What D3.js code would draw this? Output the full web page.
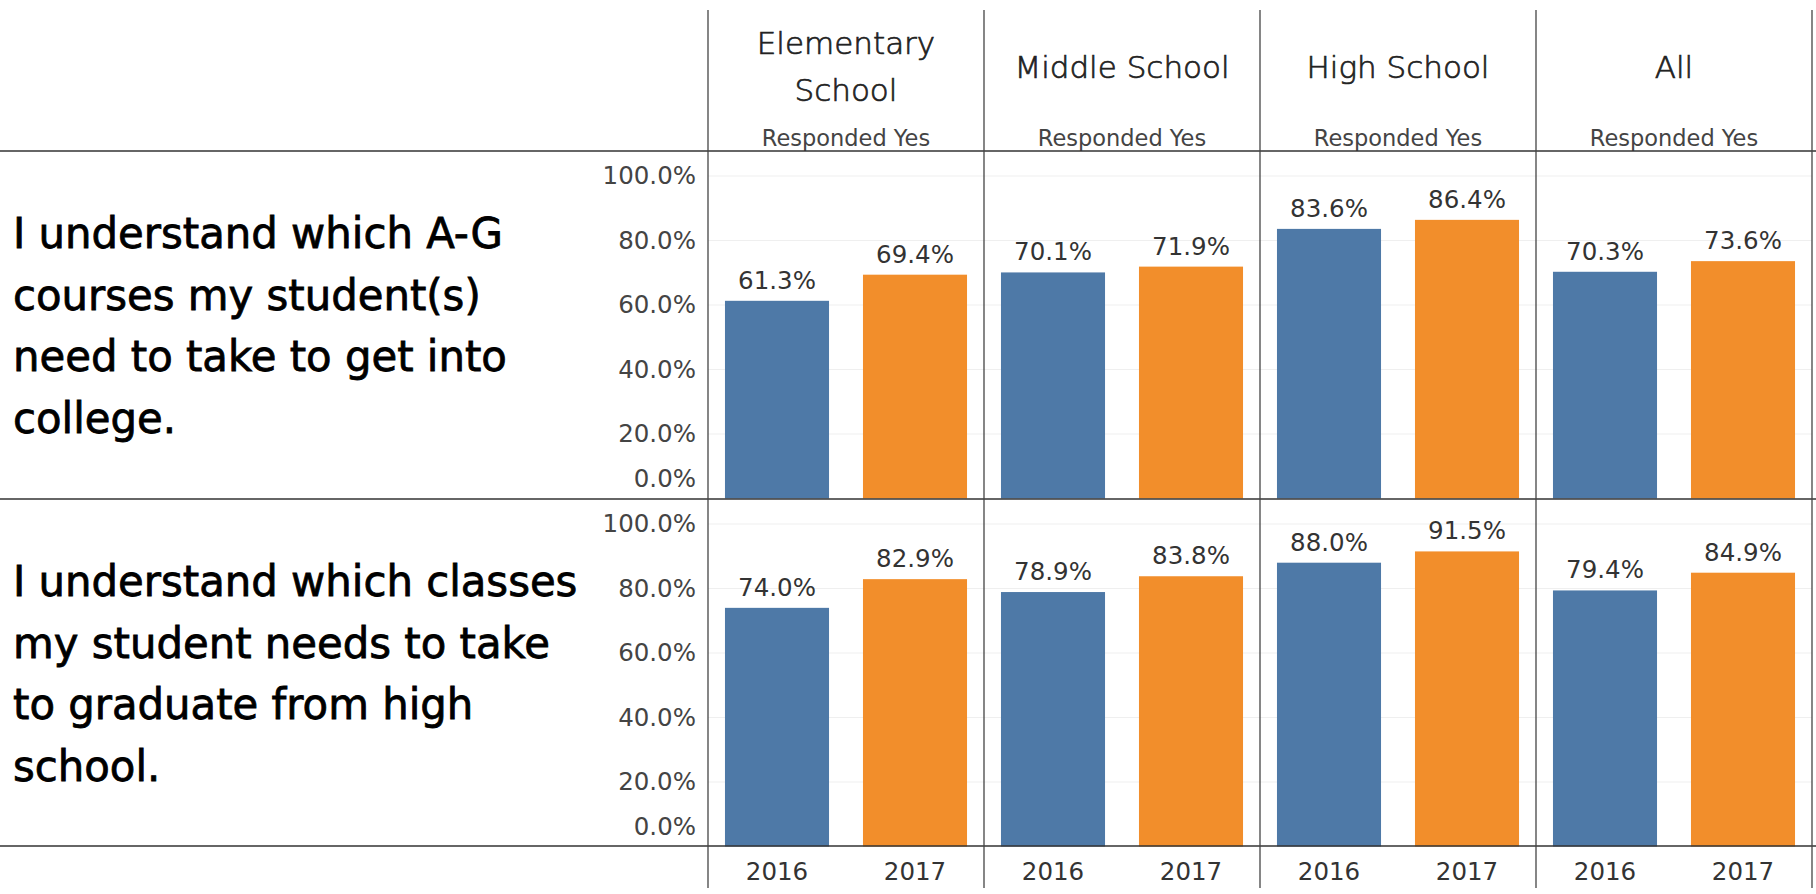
<!DOCTYPE html>
<html>
<head>
<meta charset="utf-8">
<script src="https://cdnjs.cloudflare.com/ajax/libs/d3/7.8.5/d3.min.js"></script>
<style>
  body { margin: 0; background: #fff; }
  svg { display: block; }
</style>
</head>
<body>
<svg id="graph" width="1816" height="894"></svg>
<script>
/*******************************************************************************************/
// Data

var levels = ['Elementary School', 'Middle School', 'High School', 'All'];
var levelLabels = [['Elementary', 'School'], ['Middle School'], ['High School'], ['All']];
var years = ['2016', '2017'];
var subHeader = 'Responded Yes';

var question1 = ['I understand which A-G', 'courses my student(s)', 'need to take to get into', 'college.'];
var question2 = ['I understand which classes', 'my student needs to take', 'to graduate from high', 'school.'];

var q1_2016 = [61.3, 70.1, 83.6, 70.3];
var q1_2017 = [69.4, 71.9, 86.4, 73.6];
var q2_2016 = [74.0, 78.9, 88.0, 79.4];
var q2_2017 = [82.9, 83.8, 91.5, 84.9];

var yTicks = [0, 20, 40, 60, 80, 100];
var yearColors = { '2016': '#4e79a7', '2017': '#f28e2b' };

/*******************************************************************************************/
// Layout

var W = 1816, H = 894;
var panelLeft = 708, panelRight = 1812;
var headerBottom = 151, rowH = 348;
var lineTop = 10, lineBottom = 888;
var numFont = 'DejaVu Sans, Verdana, sans-serif';

var rows = [
  { lines: question1, vals: { '2016': q1_2016, '2017': q1_2017 } },
  { lines: question2, vals: { '2016': q2_2016, '2017': q2_2017 } }
];

var svg = d3.select('#graph');

var xPanel = d3.scaleBand().domain(levels).range([panelLeft, panelRight]);
var xYear = d3.scaleBand().domain(years).range([0, xPanel.bandwidth()]).paddingInner(0.246).paddingOuter(0.123);

/*******************************************************************************************/
// Column headers

var header = svg.append('g').attr('class', 'header');
levels.forEach(function(lv, i){
  var cx = xPanel(lv) + xPanel.bandwidth() / 2;
  var lines = levelLabels[i];
  var base = lines.length == 1 ? 78 : 54;
  lines.forEach(function(t, j){
    header.append('text')
      .attr('x', cx).attr('y', base + j * 47)
      .attr('text-anchor', 'middle')
      .style('font-family', numFont).style('font-weight', 200)
      .style('font-size', '31px').style('fill', '#222')
      .style('stroke', '#222').style('stroke-width', 0.7)
      .text(t);
  });
  header.append('text')
    .attr('x', cx).attr('y', 146)
    .attr('text-anchor', 'middle')
    .style('font-family', numFont)
    .style('font-size', '22.5px').style('fill', '#444')
    .text(subHeader);
});

/*******************************************************************************************/
// Rows

rows.forEach(function(row, r){
  var top = headerBottom + r * rowH;
  var y = d3.scaleLinear().domain([0, 100]).range([top + 347.5, top + 25]);
  var g = svg.append('g').attr('class', 'row');

  // gridlines
  g.selectAll('.grid').data(yTicks.slice(1)).enter().append('line')
    .attr('class', 'grid')
    .attr('x1', panelLeft).attr('x2', panelRight)
    .attr('y1', function(d){ return y(d) }).attr('y2', function(d){ return y(d) })
    .style('stroke', '#efefef').style('stroke-width', 1.2);

  // y axis
  var ax = g.append('g').attr('transform', 'translate(' + panelLeft + ',0)')
    .call(d3.axisLeft(y).tickValues(yTicks).tickSize(0).tickPadding(12)
      .tickFormat(function(d){ return d.toFixed(1) + '%' }));
  ax.select('.domain').remove();
  ax.selectAll('text')
    .attr('font-family', null).attr('font-size', null)
    .style('font-family', numFont).style('font-size', '24.5px').style('fill', '#444')
    .attr('y', function(d){ return d == 0 ? -19.5 : 0 });

  // row label
  rows[r].lines.forEach(function(t, j){
    g.append('text')
      .attr('x', 13).attr('y', top + 97 + j * 61.5)
      .style('font-family', numFont).style('font-size', '41.8px')
      .style('fill', '#000').style('stroke', '#000').style('stroke-width', 0.8)
      .text(t);
  });

  // bars and labels per panel
  levels.forEach(function(lv, i){
    var pg = g.append('g').attr('transform', 'translate(' + xPanel(lv) + ',0)');
    var data = years.map(function(yr){ return { year: yr, value: row.vals[yr][i] } });

    pg.selectAll('rect').data(data).enter().append('rect')
      .attr('x', function(d){ return xYear(d.year) })
      .attr('width', xYear.bandwidth())
      .attr('y', function(d){ return y(d.value) })
      .attr('height', function(d){ return y(0) - y(d.value) })
      .style('fill', function(d){ return yearColors[d.year] });

    pg.selectAll('.val').data(data).enter().append('text')
      .attr('class', 'val')
      .attr('x', function(d){ return xYear(d.year) + xYear.bandwidth() / 2 })
      .attr('y', function(d){ return y(d.value) - 12 })
      .attr('text-anchor', 'middle')
      .style('font-family', numFont).style('font-size', '24.5px').style('fill', '#333')
      .text(function(d){ return d.value.toFixed(1) + '%' });
  });
});

/*******************************************************************************************/
// Year axis under the last row

var axisY = headerBottom + 2 * rowH - 1;
levels.forEach(function(lv){
  var xa = svg.append('g').attr('transform', 'translate(' + xPanel(lv) + ',' + axisY + ')')
    .call(d3.axisBottom(xYear).tickSize(0).tickPadding(17));
  xa.select('.domain').remove();
  xa.selectAll('text')
    .attr('font-family', null).attr('font-size', null)
    .style('font-family', numFont).style('font-size', '24.5px').style('fill', '#333');
});

/*******************************************************************************************/
// Table lines

var rules = svg.append('g').attr('class', 'rules');
[headerBottom, headerBottom + rowH, headerBottom + 2 * rowH - 1].forEach(function(yy){
  rules.append('line').attr('x1', 0).attr('x2', W).attr('y1', yy).attr('y2', yy)
    .style('stroke', '#333').style('stroke-width', 1.6);
});
levels.concat(['end']).forEach(function(lv){
  var xx = lv == 'end' ? panelRight : xPanel(lv);
  rules.append('line').attr('x1', xx).attr('x2', xx).attr('y1', lineTop).attr('y2', lineBottom)
    .style('stroke', '#444').style('stroke-width', 1.3);
});
</script>
</body>
</html>
